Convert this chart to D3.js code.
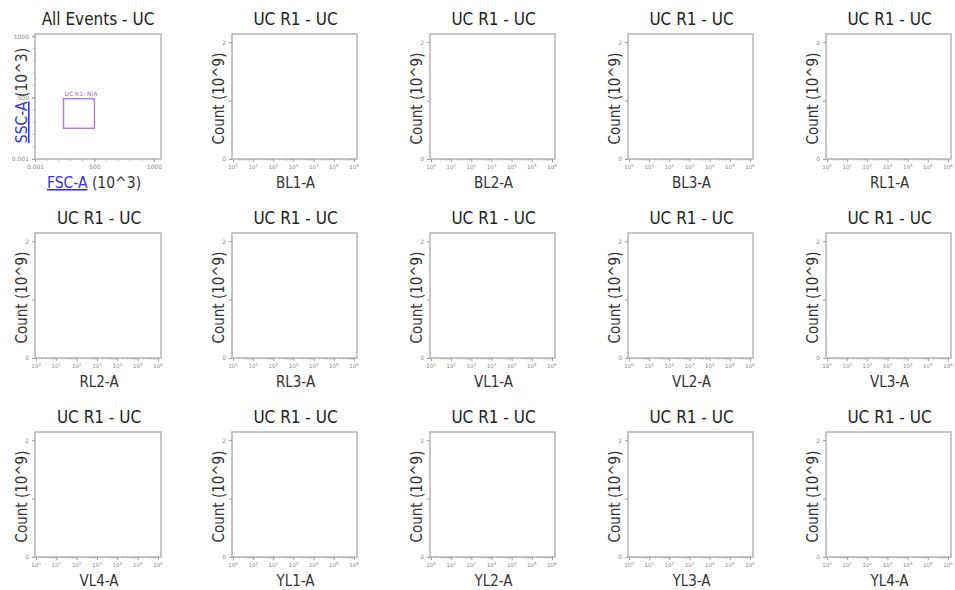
<!DOCTYPE html>
<html><head><meta charset="utf-8">
<script src="https://cdn.jsdelivr.net/npm/d3@7"></script>
<style>
html,body{margin:0;padding:0;background:#fff;}
svg{display:block;}
</style></head>
<body>
<svg id="chart" width="955" height="590"></svg>
<script>
// ---- data ----
const scatterTitle = "All Events - UC";
const scatterXLabel = "FSC-A";
const scatterYLabel = "SSC-A";
const scatterUnit = "(10^3)";
const scatterTicks = [0.001, 500, 1000];
const scatterTickLabels = ["0.001", "500", "1000"];
const scatterDomain = [0, 1060];
const gateName = "UC R1: N/A";
const gateX = [240, 500];
const gateY = [250, 490];

const histTitle = "UC R1 - UC";
const histYLabel = "Count (10^9)";
const channels = ["BL1-A","BL2-A","BL3-A","RL1-A","RL2-A","RL3-A","VL1-A","VL2-A","VL3-A","VL4-A","YL1-A","YL2-A","YL3-A","YL4-A"];
const countDomain = [0, 2.14];
const countTicks = [0, 1, 2];
const countTickLabels = ["0", "", "2"];
const decadeExps = [0, 1, 2, 3, 4, 5, 6];

// ---- layout ----
const svg = d3.select("#chart");
const font = "'DejaVu Sans Condensed', 'DejaVu Sans', sans-serif";
const tickFont = "'DejaVu Sans', sans-serif";
const colStep = 198, rowStep = 199;
const boxW = 125, boxH = 125;
const axisGray = "#b4b4b4", tickGray = "#9a9a9a";

function panelPos(i) {
  const r = Math.floor(i / 5), c = i % 5;
  const top = 34 + r * rowStep;
  let left, w;
  if (c === 0) { left = 35; w = 126; } else { left = 232 + (c - 1) * colStep; w = boxW; }
  return {left, top, w, h: boxH};
}

function frame(g, w, h) {
  g.append("rect").attr("x", 0).attr("y", 0).attr("width", w).attr("height", h)
    .attr("fill", "#fff").attr("stroke", axisGray).attr("stroke-width", 1.5);
}

// ---- scatter panel ----
(function () {
  const p = panelPos(0);
  const g = svg.append("g").attr("transform", `translate(${p.left},${p.top})`);
  const x = d3.scaleLinear().domain(scatterDomain).range([0, p.w]);
  const y = d3.scaleLinear().domain([0, 1017]).range([p.h, 0]);
  frame(g, p.w, p.h);
  const minor = d3.range(100, 1001, 100);
  g.selectAll(".mx").data(minor).join("line")
    .attr("x1", d => x(d)).attr("x2", d => x(d)).attr("y1", p.h).attr("y2", p.h + 2)
    .attr("stroke", tickGray).attr("stroke-width", 0.7);
  g.selectAll(".my").data(minor).join("line")
    .attr("y1", d => y(d)).attr("y2", d => y(d)).attr("x1", 0).attr("x2", -2)
    .attr("stroke", tickGray).attr("stroke-width", 0.7);
  const xa = d3.axisBottom(x).tickValues(scatterTicks).tickSize(3)
    .tickFormat((d, i) => scatterTickLabels[i]);
  const gx = g.append("g").attr("transform", `translate(0,${p.h})`).call(xa);
  const ya = d3.axisLeft(y).tickValues(scatterTicks).tickSize(3)
    .tickFormat((d, i) => scatterTickLabels[i]);
  const gy = g.append("g").call(ya);
  [gx, gy].forEach(a => {
    a.select(".domain").remove();
    a.selectAll("line").attr("stroke", tickGray);
    a.selectAll("text").attr("fill", "#8a8a8a").style("font-family", tickFont).style("font-size", "6px");
  });
  gx.selectAll("text").attr("dy", "0.6em");
  // gate
  g.append("rect")
    .attr("x", x(gateX[0])).attr("y", y(gateY[1]))
    .attr("width", x(gateX[1]) - x(gateX[0])).attr("height", y(gateY[0]) - y(gateY[1]))
    .attr("fill", "none").attr("stroke", "#b07ad8").attr("stroke-width", 1.4);
  g.append("text").attr("x", x(gateX[0]) + 1).attr("y", y(gateY[1]) - 3)
    .attr("fill", "#9f5fd0").style("font-family", tickFont).style("font-size", "6px").text(gateName);
  // title
  g.append("text").attr("x", p.w / 2).attr("y", -9).attr("text-anchor", "middle")
    .attr("fill", "#222").style("font-family", font).style("font-size", "17px").text(scatterTitle);
  // x label
  const xl = g.append("text").attr("x", p.w / 2 - 4).attr("y", p.h + 29).attr("text-anchor", "middle")
    .style("font-family", font).style("font-size", "15.5px");
  xl.append("tspan").attr("fill", "#3030ee").attr("text-decoration", "underline").text(scatterXLabel);
  xl.append("tspan").attr("fill", "#333").text(" " + scatterUnit);
  // y label
  const yl = g.append("text").attr("transform", `translate(-8,${p.h / 2 - 1}) rotate(-90)`)
    .attr("text-anchor", "middle").style("font-family", font).style("font-size", "15.5px");
  yl.append("tspan").attr("fill", "#3030ee").attr("text-decoration", "underline").text(scatterYLabel);
  yl.append("tspan").attr("fill", "#333").text(" " + scatterUnit);
})();

// ---- histogram panels ----
channels.forEach((ch, k) => {
  const p = panelPos(k + 1);
  const g = svg.append("g").attr("transform", `translate(${p.left},${p.top})`);
  const x = d3.scaleLog().domain([1, 1e6]).range([1, p.w - 3]);
  const y = d3.scaleLinear().domain(countDomain).range([p.h, 0]);
  frame(g, p.w, p.h);
  const minor = [];
  decadeExps.slice(0, -1).forEach(e => { for (let m = 2; m <= 9; m++) minor.push(m * Math.pow(10, e)); });
  g.selectAll(".mx").data(minor).join("line")
    .attr("x1", d => x(d)).attr("x2", d => x(d)).attr("y1", p.h).attr("y2", p.h + 1.5)
    .attr("stroke", tickGray).attr("stroke-width", 0.6);
  const xa = d3.axisBottom(x).tickValues(decadeExps.map(e => Math.pow(10, e))).tickSize(3).tickFormat("");
  const gx = g.append("g").attr("transform", `translate(0,${p.h})`).call(xa);
  gx.select(".domain").remove();
  gx.selectAll("line").attr("stroke", tickGray);
  const lab = gx.selectAll(".lab").data(decadeExps).join("text")
    .attr("x", e => x(Math.pow(10, e))).attr("y", 10).attr("text-anchor", "middle")
    .attr("fill", "#8a8a8a").style("font-family", tickFont).style("font-size", "5.5px");
  lab.append("tspan").text("10");
  lab.append("tspan").attr("dy", -2.5).style("font-size", "4px").text(e => e);
  const ya = d3.axisLeft(y).tickValues(countTicks).tickSize(3).tickFormat((d, i) => countTickLabels[i]);
  const gy = g.append("g").call(ya);
  gy.select(".domain").remove();
  gy.selectAll("line").attr("stroke", tickGray);
  gy.selectAll("text").attr("fill", "#8a8a8a").style("font-family", tickFont).style("font-size", "6px");
  // title
  g.append("text").attr("x", p.w / 2 + 1).attr("y", -9).attr("text-anchor", "middle")
    .attr("fill", "#222").style("font-family", font).style("font-size", "17px").text(histTitle);
  // x label
  g.append("text").attr("x", p.w / 2 + 1).attr("y", p.h + 29).attr("text-anchor", "middle")
    .attr("fill", "#333").style("font-family", font).style("font-size", "15px").text(ch);
  // y label
  g.append("text").attr("transform", `translate(-8,${p.h / 2 + 2}) rotate(-90)`)
    .attr("text-anchor", "middle").attr("fill", "#333").style("font-family", font).style("font-size", "15px")
    .text(histYLabel);
});
</script>
</body></html>
